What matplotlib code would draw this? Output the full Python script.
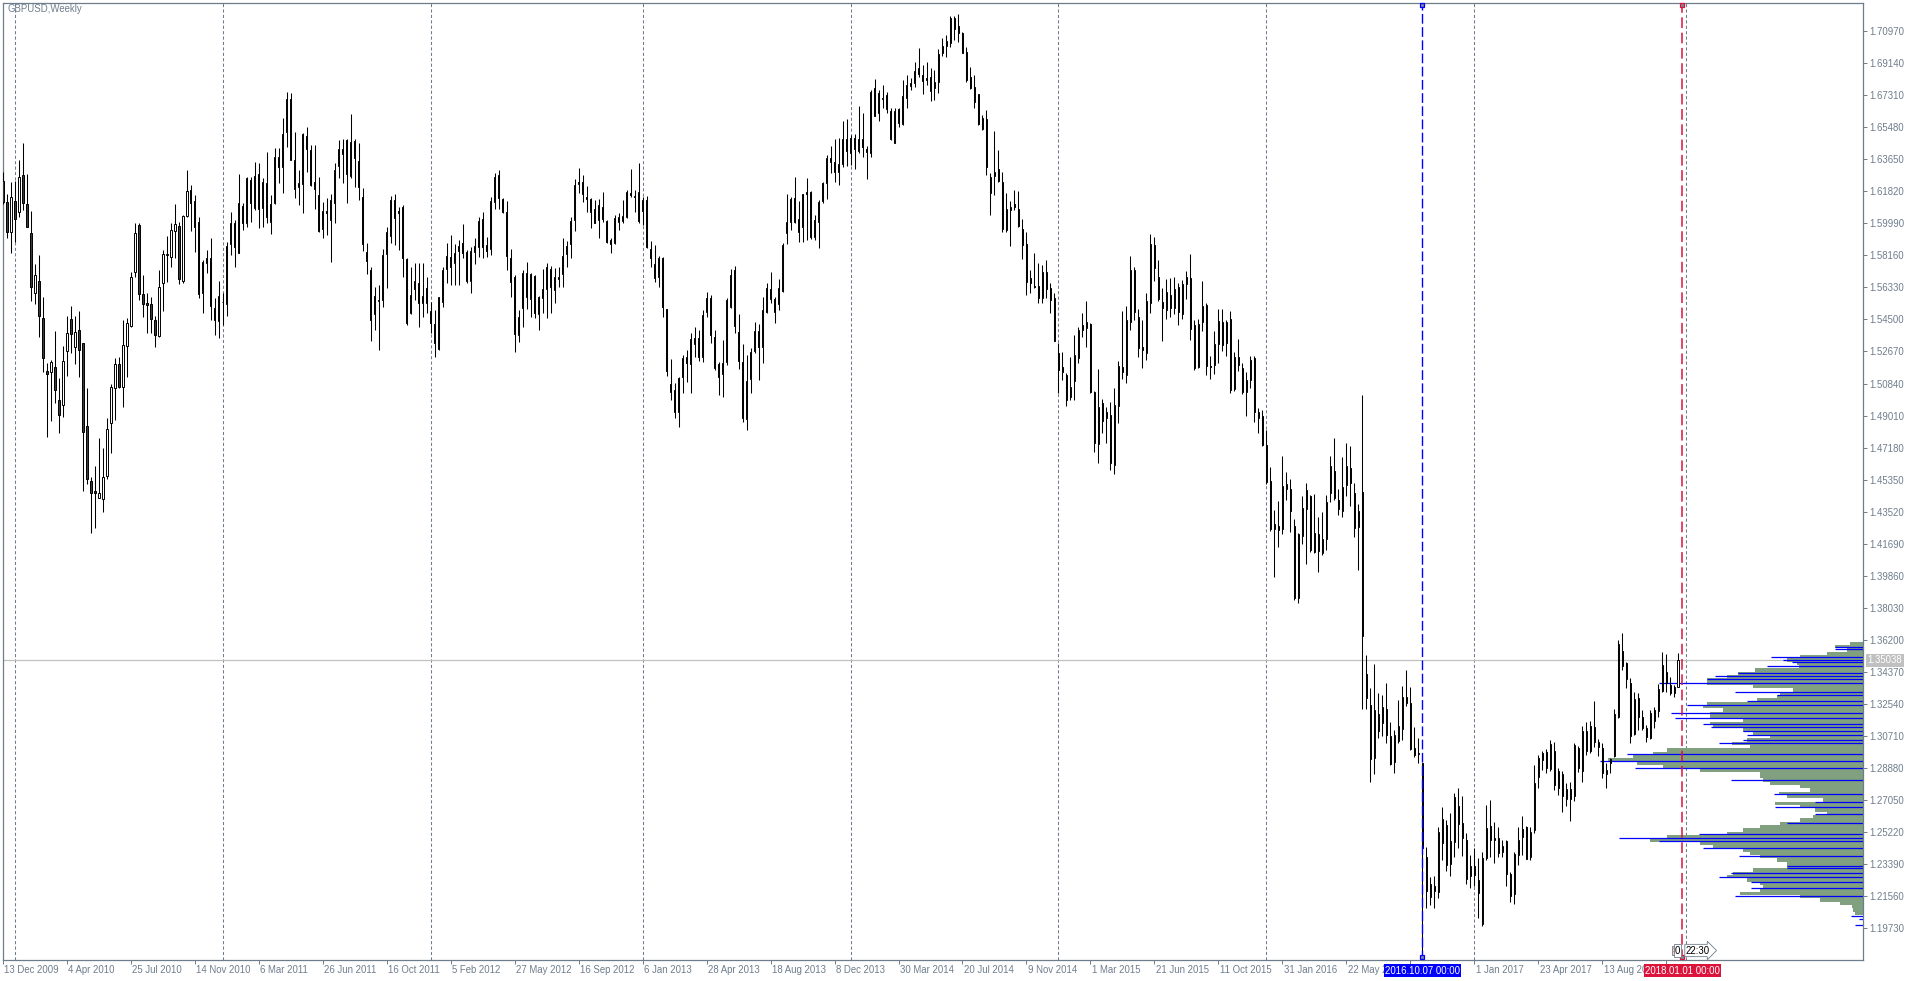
import numpy as np
import pandas as pd
import matplotlib
matplotlib.use("Agg")
import matplotlib.pyplot as plt

symbol_title = "GBPUSD,Weekly"
first_week = "2009-12-13"

opens = [
    1.6240, 1.6119, 1.5947, 1.6124, 1.6062, 1.6275, 1.6107, 1.5942, 1.5599, 1.5669,
    1.5456, 1.5154, 1.5152, 1.5176, 1.4990, 1.4959, 1.5270, 1.5450, 1.5291, 1.5390,
    1.5313, 1.4839, 1.4525, 1.4468, 1.4432, 1.4423, 1.4554, 1.4857, 1.5057, 1.5194,
    1.5062, 1.5296, 1.5413, 1.5723, 1.5987, 1.5593, 1.5544, 1.5536, 1.5447, 1.5357,
    1.5656, 1.5818, 1.5805, 1.5955, 1.5983, 1.5668, 1.6042, 1.6189, 1.6126, 1.6004,
    1.5599, 1.5770, 1.5799, 1.5513, 1.5441, 1.5550, 1.5538, 1.5879, 1.5999, 1.5831,
    1.6098, 1.6003, 1.6246, 1.6084, 1.6280, 1.6084, 1.6227, 1.6008, 1.6113, 1.6376,
    1.6322, 1.6518, 1.6707, 1.6360, 1.6208, 1.6221, 1.6497, 1.6417, 1.6233, 1.6158,
    1.5964, 1.6067, 1.6017, 1.6113, 1.6328, 1.6421, 1.6474, 1.6271, 1.6469, 1.6354,
    1.6151, 1.5833, 1.5732, 1.5479, 1.5555, 1.5561, 1.5821, 1.5928, 1.6132, 1.6067,
    1.6090, 1.5795, 1.5485, 1.5624, 1.5656, 1.5542, 1.5627, 1.5498, 1.5422, 1.5279,
    1.5551, 1.5736, 1.5808, 1.5774, 1.5842, 1.5884, 1.5833, 1.5671, 1.5837, 1.5865,
    1.6021, 1.5875, 1.5850, 1.6122, 1.6273, 1.6135, 1.6065, 1.5799, 1.5690, 1.5361,
    1.5513, 1.5713, 1.5565, 1.5698, 1.5479, 1.5574, 1.5624, 1.5736, 1.5618, 1.5679,
    1.5707, 1.5822, 1.5879, 1.6018, 1.6221, 1.6237, 1.6147, 1.6138, 1.6079, 1.6018,
    1.6094, 1.6012, 1.5904, 1.5884, 1.6008, 1.6014, 1.6037, 1.6170, 1.6155, 1.6176,
    1.6071, 1.6132, 1.5850, 1.5767, 1.5694, 1.5799, 1.5508, 1.5079, 1.5047, 1.4923,
    1.5120, 1.5234, 1.5194, 1.5308, 1.5342, 1.5234, 1.5490, 1.5570, 1.5352, 1.5193,
    1.5139, 1.5209, 1.5519, 1.5732, 1.5376, 1.5205, 1.4879, 1.5108, 1.5271, 1.5384,
    1.5291, 1.5490, 1.5622, 1.5567, 1.5538, 1.5614, 1.5942, 1.6004, 1.6141, 1.6023,
    1.5976, 1.6176, 1.6176, 1.5923, 1.6004, 1.6126, 1.6227, 1.6370, 1.6347, 1.6294,
    1.6336, 1.6478, 1.6402, 1.6484, 1.6414, 1.6478, 1.6421, 1.6398, 1.6770, 1.6631,
    1.6709, 1.6731, 1.6640, 1.6459, 1.6574, 1.6564, 1.6716, 1.6785, 1.6798, 1.6884,
    1.6846, 1.6817, 1.6836, 1.6769, 1.6808, 1.6973, 1.7013, 1.7027, 1.7169, 1.7126,
    1.7084, 1.6979, 1.6832, 1.6779, 1.6735, 1.6537, 1.6593, 1.6174, 1.6271, 1.6307,
    1.6233, 1.5961, 1.6075, 1.6107, 1.6079, 1.5964, 1.5879, 1.5685, 1.5643, 1.5641,
    1.5574, 1.5719, 1.5628, 1.5570, 1.5256, 1.5176, 1.5133, 1.5009, 1.5100, 1.5228,
    1.5390, 1.5399, 1.5424, 1.5038, 1.4736, 1.4971, 1.4919, 1.4904, 1.4619, 1.4956,
    1.5180, 1.5131, 1.5437, 1.5732, 1.5461, 1.5295, 1.5258, 1.5546, 1.5874, 1.5693,
    1.5549, 1.5503, 1.5590, 1.5514, 1.5634, 1.5483, 1.5651, 1.5684, 1.5418, 1.5177,
    1.5433, 1.5535, 1.5186, 1.5188, 1.5308, 1.5437, 1.5433, 1.5450, 1.5050, 1.5236,
    1.5171, 1.5033, 1.5105, 1.5230, 1.4887, 1.4897, 1.4734, 1.4526, 1.4253, 1.4270,
    1.4253, 1.4479, 1.4482, 1.4268, 1.3860, 1.4216, 1.4366, 1.4439, 1.4122, 1.4224,
    1.4117, 1.4198, 1.4460, 1.4585, 1.4417, 1.4358, 1.4504, 1.4603, 1.4460, 1.4264,
    1.4467, 1.3423, 1.3248, 1.2948, 1.3198, 1.3143, 1.3226, 1.3073, 1.2920, 1.3045,
    1.3110, 1.3292, 1.3258, 1.3001, 1.2972, 1.2915, 1.2382, 1.2150, 1.2215, 1.2179,
    1.2458, 1.2563, 1.2340, 1.2468, 1.2672, 1.2573, 1.2478, 1.2272, 1.2329, 1.2249,
    1.1998, 1.2373, 1.2559, 1.2478, 1.2487, 1.2407, 1.2472, 1.2283, 1.2167, 1.2392,
    1.2493, 1.2550, 1.2382, 1.2535, 1.2835, 1.2934, 1.2982, 1.2881, 1.2988, 1.2773,
    1.2852, 1.2712, 1.2769, 1.2731, 1.3001, 1.2873, 1.2988, 1.3130, 1.3125, 1.3039,
    1.3001, 1.2855, 1.2915, 1.2959, 1.3178, 1.3557, 1.3486, 1.3372, 1.3083, 1.3286,
    1.3178, 1.3115, 1.3062, 1.3159, 1.3216, 1.3330, 1.3439, 1.3363, 1.3315, 1.3353,
]

highs = [
    1.6290, 1.6164, 1.6237, 1.6242, 1.6360, 1.6459, 1.6280, 1.6069, 1.5765, 1.5818,
    1.5580, 1.5203, 1.5218, 1.5384, 1.5114, 1.5298, 1.5470, 1.5527, 1.5471, 1.5500,
    1.5313, 1.5057, 1.4548, 1.4613, 1.4771, 1.4714, 1.4885, 1.5079, 1.5232, 1.5237,
    1.5447, 1.5456, 1.5721, 1.5999, 1.5999, 1.5704, 1.5599, 1.5580, 1.5470, 1.5732,
    1.5846, 1.5926, 1.5999, 1.6109, 1.6008, 1.6046, 1.6303, 1.6218, 1.6160, 1.6037,
    1.5789, 1.5846, 1.5913, 1.5570, 1.5669, 1.5600, 1.5894, 1.6065, 1.6018, 1.6280,
    1.6113, 1.6265, 1.6265, 1.6351, 1.6341, 1.6260, 1.6408, 1.6160, 1.6427, 1.6427,
    1.6598, 1.6746, 1.6741, 1.6522, 1.6303, 1.6516, 1.6547, 1.6446, 1.6446, 1.6261,
    1.6118, 1.6141, 1.6166, 1.6341, 1.6474, 1.6478, 1.6480, 1.6623, 1.6480, 1.6459,
    1.6198, 1.5884, 1.5751, 1.5637, 1.5646, 1.5852, 1.5979, 1.6155, 1.6166, 1.6094,
    1.6103, 1.5799, 1.5751, 1.5774, 1.5770, 1.5774, 1.5694, 1.5547, 1.5504, 1.5576,
    1.5751, 1.5884, 1.5932, 1.5878, 1.5903, 1.5995, 1.5846, 1.5865, 1.5913, 1.6036,
    1.6061, 1.5922, 1.6151, 1.6284, 1.6303, 1.6141, 1.6126, 1.5850, 1.5703, 1.5504,
    1.5732, 1.5776, 1.5717, 1.5703, 1.5584, 1.5738, 1.5774, 1.5757, 1.5741, 1.5751,
    1.5913, 1.5898, 1.6037, 1.6252, 1.6313, 1.6275, 1.6212, 1.6141, 1.6132, 1.6136,
    1.6176, 1.6018, 1.5913, 1.6046, 1.6056, 1.6132, 1.6189, 1.6309, 1.6189, 1.6345,
    1.6151, 1.6155, 1.5898, 1.5875, 1.5812, 1.5808, 1.5508, 1.5222, 1.5085, 1.5123,
    1.5247, 1.5275, 1.5371, 1.5409, 1.5390, 1.5504, 1.5608, 1.5589, 1.5390, 1.5209,
    1.5332, 1.5570, 1.5736, 1.5757, 1.5479, 1.5310, 1.5247, 1.5285, 1.5437, 1.5424,
    1.5580, 1.5660, 1.5719, 1.5580, 1.5679, 1.5884, 1.6166, 1.6147, 1.6261, 1.6126,
    1.6166, 1.6256, 1.6185, 1.6046, 1.6132, 1.6237, 1.6389, 1.6440, 1.6478, 1.6484,
    1.6583, 1.6593, 1.6503, 1.6509, 1.6669, 1.6631, 1.6442, 1.6760, 1.6823, 1.6760,
    1.6789, 1.6750, 1.6655, 1.6655, 1.6659, 1.6817, 1.6846, 1.6830, 1.6918, 1.6998,
    1.6903, 1.6922, 1.6884, 1.6874, 1.6992, 1.7059, 1.7074, 1.7183, 1.7183, 1.7192,
    1.7093, 1.7008, 1.6893, 1.6846, 1.6735, 1.6617, 1.6646, 1.6284, 1.6526, 1.6417,
    1.6290, 1.6170, 1.6126, 1.6189, 1.6183, 1.6023, 1.5951, 1.5732, 1.5827, 1.5770,
    1.5761, 1.5789, 1.5656, 1.5603, 1.5317, 1.5266, 1.5142, 1.5237, 1.5361, 1.5409,
    1.5485, 1.5555, 1.5428, 1.5043, 1.5165, 1.4994, 1.4952, 1.4980, 1.5056, 1.5214,
    1.5498, 1.5525, 1.5815, 1.5750, 1.5509, 1.5444, 1.5601, 1.5935, 1.5918, 1.5789,
    1.5630, 1.5678, 1.5684, 1.5695, 1.5656, 1.5673, 1.5728, 1.5826, 1.5444, 1.5455,
    1.5667, 1.5546, 1.5241, 1.5385, 1.5509, 1.5509, 1.5444, 1.5498, 1.5265, 1.5341,
    1.5203, 1.5149, 1.5243, 1.5243, 1.4946, 1.4930, 1.4821, 1.4609, 1.4362, 1.4412,
    1.4672, 1.4581, 1.4537, 1.4312, 1.4231, 1.4439, 1.4515, 1.4449, 1.4454, 1.4323,
    1.4351, 1.4449, 1.4668, 1.4773, 1.4482, 1.4664, 1.4745, 1.4729, 1.4515, 1.4395,
    1.5018, 1.3532, 1.3346, 1.3482, 1.3318, 1.3303, 1.3375, 1.3149, 1.3106, 1.3274,
    1.3357, 1.3448, 1.3349, 1.3125, 1.3058, 1.2915, 1.2439, 1.2268, 1.2272, 1.2554,
    1.2664, 1.2592, 1.2630, 1.2748, 1.2773, 1.2729, 1.2516, 1.2392, 1.2430, 1.2373,
    1.2411, 1.2677, 1.2706, 1.2582, 1.2554, 1.2478, 1.2478, 1.2297, 1.2411, 1.2554,
    1.2615, 1.2559, 1.2554, 1.2906, 1.2963, 1.2988, 1.2995, 1.3049, 1.3039, 1.2887,
    1.2873, 1.2805, 1.2811, 1.3030, 1.3016, 1.3128, 1.3153, 1.3159, 1.3271, 1.3052,
    1.3030, 1.2919, 1.2944, 1.3226, 1.3620, 1.3658, 1.3496, 1.3401, 1.3324, 1.3315,
    1.3220, 1.3134, 1.3220, 1.3239, 1.3368, 1.3553, 1.3538, 1.3410, 1.3363, 1.3547,
]

lows = [
    1.6110, 1.5917, 1.5831, 1.5894, 1.6037, 1.6075, 1.5980, 1.5555, 1.5536, 1.5352,
    1.5152, 1.4780, 1.4872, 1.4975, 1.4800, 1.4891, 1.5127, 1.5256, 1.5194, 1.5123,
    1.4472, 1.4510, 1.4228, 1.4257, 1.4428, 1.4348, 1.4540, 1.4685, 1.4876, 1.5057,
    1.4948, 1.5123, 1.5409, 1.5694, 1.5561, 1.5466, 1.5371, 1.5371, 1.5294, 1.5352,
    1.5500, 1.5666, 1.5751, 1.5803, 1.5652, 1.5656, 1.6037, 1.5957, 1.5837, 1.5574,
    1.5485, 1.5713, 1.5447, 1.5361, 1.5346, 1.5420, 1.5471, 1.5818, 1.5751, 1.5827,
    1.5961, 1.5980, 1.6008, 1.6075, 1.5974, 1.5980, 1.5999, 1.5936, 1.6109, 1.6227,
    1.6170, 1.6432, 1.6360, 1.6145, 1.6103, 1.6059, 1.6293, 1.6212, 1.6078, 1.5951,
    1.5913, 1.5932, 1.5780, 1.6002, 1.6255, 1.6227, 1.6113, 1.6255, 1.6208, 1.6132,
    1.5842, 1.5707, 1.5328, 1.5389, 1.5275, 1.5523, 1.5627, 1.5884, 1.5875, 1.5846,
    1.5690, 1.5418, 1.5479, 1.5561, 1.5408, 1.5465, 1.5485, 1.5370, 1.5237, 1.5275,
    1.5519, 1.5656, 1.5646, 1.5646, 1.5646, 1.5799, 1.5656, 1.5603, 1.5766, 1.5808,
    1.5802, 1.5808, 1.5818, 1.6078, 1.6078, 1.6056, 1.5732, 1.5580, 1.5266, 1.5323,
    1.5408, 1.5507, 1.5465, 1.5456, 1.5389, 1.5485, 1.5456, 1.5485, 1.5542, 1.5637,
    1.5637, 1.5751, 1.5799, 1.5957, 1.6170, 1.6122, 1.6065, 1.5974, 1.5999, 1.5913,
    1.6008, 1.5888, 1.5827, 1.5880, 1.5961, 1.6003, 1.6027, 1.6151, 1.6065, 1.5999,
    1.5989, 1.5856, 1.5751, 1.5666, 1.5637, 1.5462, 1.5127, 1.4990, 1.4885, 1.4834,
    1.5032, 1.5095, 1.5032, 1.5237, 1.5215, 1.5209, 1.5466, 1.5314, 1.5161, 1.5018,
    1.5009, 1.5190, 1.5513, 1.5371, 1.5165, 1.4866, 1.4819, 1.5028, 1.5256, 1.5104,
    1.5203, 1.5485, 1.5542, 1.5431, 1.5504, 1.5608, 1.5881, 1.5961, 1.6003, 1.5894,
    1.5894, 1.5904, 1.5907, 1.5904, 1.5856, 1.6113, 1.6136, 1.6288, 1.6237, 1.6218,
    1.6322, 1.6326, 1.6332, 1.6309, 1.6398, 1.6379, 1.6252, 1.6379, 1.6613, 1.6585,
    1.6659, 1.6631, 1.6475, 1.6456, 1.6547, 1.6560, 1.6655, 1.6760, 1.6779, 1.6832,
    1.6737, 1.6789, 1.6697, 1.6703, 1.6741, 1.6954, 1.6950, 1.7008, 1.7046, 1.7036,
    1.6973, 1.6808, 1.6764, 1.6655, 1.6560, 1.6532, 1.6275, 1.6046, 1.6160, 1.6237,
    1.5951, 1.5951, 1.5871, 1.6075, 1.5980, 1.5793, 1.5589, 1.5599, 1.5628, 1.5542,
    1.5542, 1.5570, 1.5485, 1.5327, 1.5028, 1.5104, 1.4956, 1.4990, 1.4990, 1.5199,
    1.5352, 1.5291, 1.5028, 1.4695, 1.4632, 1.4800, 1.4742, 1.4590, 1.4567, 1.4857,
    1.5108, 1.5088, 1.5389, 1.5444, 1.5236, 1.5171, 1.5219, 1.5487, 1.5669, 1.5553,
    1.5328, 1.5450, 1.5466, 1.5483, 1.5418, 1.5455, 1.5564, 1.5335, 1.5160, 1.5171,
    1.5383, 1.5133, 1.5109, 1.5138, 1.5199, 1.5269, 1.5241, 1.5029, 1.5040, 1.5153,
    1.5024, 1.4897, 1.5061, 1.4865, 1.4804, 1.4727, 1.4509, 1.4242, 1.3978, 1.4148,
    1.4227, 1.4417, 1.4238, 1.3849, 1.3833, 1.4166, 1.4052, 1.4122, 1.4117, 1.4008,
    1.4104, 1.4133, 1.4406, 1.4417, 1.4336, 1.4323, 1.4439, 1.4384, 1.4205, 1.4017,
    1.3226, 1.3226, 1.2811, 1.2855, 1.3062, 1.3073, 1.3029, 1.2905, 1.2861, 1.3034,
    1.3051, 1.3243, 1.2991, 1.2953, 1.2915, 1.1841, 1.2087, 1.2106, 1.2087, 1.2144,
    1.2363, 1.2302, 1.2272, 1.2382, 1.2430, 1.2386, 1.2226, 1.2202, 1.2215, 1.2030,
    1.1986, 1.2363, 1.2382, 1.2344, 1.2382, 1.2382, 1.2215, 1.2125, 1.2112, 1.2335,
    1.2392, 1.2367, 1.2363, 1.2516, 1.2773, 1.2877, 1.2858, 1.2873, 1.2763, 1.2734,
    1.2636, 1.2674, 1.2588, 1.2702, 1.2868, 1.2811, 1.2963, 1.2972, 1.3010, 1.2957,
    1.2830, 1.2773, 1.2858, 1.2953, 1.3172, 1.3448, 1.3344, 1.3029, 1.3077, 1.3106,
    1.3106, 1.3039, 1.3052, 1.3115, 1.3178, 1.3325, 1.3325, 1.3305, 1.3296, 1.3353,
]

closes = [
    1.6119, 1.5947, 1.6147, 1.6022, 1.6261, 1.6113, 1.5980, 1.5637, 1.5704, 1.5471,
    1.5232, 1.5136, 1.5205, 1.5045, 1.4902, 1.5211, 1.5371, 1.5365, 1.5376, 1.5273,
    1.4805, 1.4539, 1.4457, 1.4457, 1.4457, 1.4550, 1.4822, 1.5062, 1.5194, 1.5062,
    1.5302, 1.5428, 1.5690, 1.5942, 1.5593, 1.5536, 1.5530, 1.5450, 1.5359, 1.5633,
    1.5822, 1.5824, 1.5961, 1.5993, 1.5679, 1.6042, 1.6183, 1.6113, 1.5980, 1.5593,
    1.5776, 1.5799, 1.5529, 1.5447, 1.5586, 1.5551, 1.5871, 1.6000, 1.5862, 1.6113,
    1.6003, 1.6256, 1.6117, 1.6269, 1.6079, 1.6237, 1.6037, 1.6109, 1.6379, 1.6322,
    1.6509, 1.6707, 1.6360, 1.6193, 1.6227, 1.6509, 1.6425, 1.6217, 1.6193, 1.5957,
    1.6067, 1.6056, 1.6132, 1.6303, 1.6421, 1.6392, 1.6278, 1.6465, 1.6370, 1.6208,
    1.5880, 1.5785, 1.5446, 1.5584, 1.5561, 1.5817, 1.5947, 1.6132, 1.6031, 1.6059,
    1.5802, 1.5427, 1.5592, 1.5669, 1.5542, 1.5585, 1.5542, 1.5427, 1.5317, 1.5576,
    1.5732, 1.5812, 1.5751, 1.5827, 1.5869, 1.5831, 1.5671, 1.5840, 1.5869, 1.6012,
    1.5865, 1.5842, 1.6126, 1.6261, 1.6145, 1.6065, 1.5814, 1.5665, 1.5365, 1.5465,
    1.5713, 1.5580, 1.5707, 1.5488, 1.5576, 1.5624, 1.5751, 1.5637, 1.5694, 1.5694,
    1.5812, 1.5869, 1.6012, 1.6218, 1.6237, 1.6164, 1.6136, 1.6065, 1.5999, 1.6101,
    1.6022, 1.5894, 1.5881, 1.6027, 1.6033, 1.6040, 1.6176, 1.6160, 1.6147, 1.6014,
    1.6132, 1.5865, 1.5799, 1.5688, 1.5799, 1.5519, 1.5157, 1.5038, 1.4923, 1.5114,
    1.5228, 1.5199, 1.5336, 1.5342, 1.5234, 1.5475, 1.5570, 1.5361, 1.5171, 1.5123,
    1.5199, 1.5561, 1.5704, 1.5414, 1.5214, 1.4885, 1.5100, 1.5262, 1.5384, 1.5291,
    1.5504, 1.5628, 1.5565, 1.5490, 1.5628, 1.5875, 1.6004, 1.6138, 1.6008, 1.5947,
    1.6164, 1.6164, 1.5923, 1.6018, 1.6119, 1.6227, 1.6370, 1.6347, 1.6294, 1.6336,
    1.6478, 1.6414, 1.6484, 1.6421, 1.6478, 1.6436, 1.6408, 1.6747, 1.6613, 1.6741,
    1.6714, 1.6650, 1.6482, 1.6640, 1.6652, 1.6728, 1.6789, 1.6798, 1.6870, 1.6851,
    1.6811, 1.6827, 1.6754, 1.6804, 1.6964, 1.7013, 1.7040, 1.7169, 1.7106, 1.7084,
    1.6973, 1.6817, 1.6770, 1.6690, 1.6566, 1.6598, 1.6322, 1.6265, 1.6290, 1.6240,
    1.5966, 1.6079, 1.6090, 1.6090, 1.5983, 1.5875, 1.5666, 1.5656, 1.5637, 1.5574,
    1.5719, 1.5622, 1.5561, 1.5327, 1.5161, 1.5148, 1.4990, 1.5062, 1.5247, 1.5390,
    1.5418, 1.5433, 1.5034, 1.4742, 1.4948, 1.4872, 1.4885, 1.4632, 1.4961, 1.5186,
    1.5152, 1.5444, 1.5732, 1.5494, 1.5284, 1.5273, 1.5553, 1.5881, 1.5745, 1.5564,
    1.5514, 1.5608, 1.5514, 1.5623, 1.5492, 1.5651, 1.5695, 1.5396, 1.5171, 1.5422,
    1.5527, 1.5186, 1.5177, 1.5308, 1.5439, 1.5306, 1.5313, 1.5046, 1.5236, 1.5188,
    1.5033, 1.5105, 1.5221, 1.4919, 1.4924, 1.4734, 1.4522, 1.4253, 1.4279, 1.4249,
    1.4500, 1.4509, 1.4358, 1.3860, 1.4224, 1.4373, 1.4476, 1.4133, 1.4231, 1.4126,
    1.4194, 1.4410, 1.4613, 1.4428, 1.4369, 1.4493, 1.4613, 1.4515, 1.4257, 1.4358,
    1.3641, 1.3287, 1.2942, 1.3219, 1.3101, 1.3237, 1.3077, 1.2909, 1.3079, 1.3128,
    1.3292, 1.3262, 1.2995, 1.2963, 1.2967, 1.2430, 1.2186, 1.2226, 1.2188, 1.2521,
    1.2596, 1.2335, 1.2474, 1.2721, 1.2567, 1.2487, 1.2253, 1.2329, 1.2278, 1.2173,
    1.2373, 1.2544, 1.2478, 1.2489, 1.2401, 1.2445, 1.2283, 1.2158, 1.2398, 1.2478,
    1.2539, 1.2369, 1.2521, 1.2801, 1.2948, 1.2976, 1.2887, 1.3026, 1.2792, 1.2873,
    1.2731, 1.2769, 1.2712, 1.3020, 1.2887, 1.3100, 1.3100, 1.2988, 1.3035, 1.3007,
    1.2862, 1.2877, 1.2938, 1.3195, 1.3595, 1.3473, 1.3397, 1.3071, 1.3281, 1.3178,
    1.3119, 1.3068, 1.3201, 1.3220, 1.3338, 1.3477, 1.3376, 1.3319, 1.3353, 1.3504,
]

bid_price = 1.35038

price_ticks = [1.70970, 1.69140, 1.67310, 1.65480, 1.63650, 1.61820, 1.59990,
               1.58160, 1.56330, 1.54500, 1.52670, 1.50840, 1.49010, 1.47180,
               1.45350, 1.43520, 1.41690, 1.39860, 1.38030, 1.36200, 1.34370,
               1.32540, 1.30710, 1.28880, 1.27050, 1.25220, 1.23390, 1.21560,
               1.19730]

# volume profile (green histogram) between the two vertical lines
profile_levels = [
    1.3601, 1.3582, 1.3562, 1.3543, 1.3524, 1.3505, 1.3486, 1.3467, 1.3448, 1.3429,
    1.3410, 1.3391, 1.3372, 1.3353, 1.3334, 1.3315, 1.3296, 1.3277, 1.3258, 1.3239,
    1.3220, 1.3201, 1.3182, 1.3163, 1.3144, 1.3125, 1.3106, 1.3087, 1.3068, 1.3049,
    1.3030, 1.3010, 1.2991, 1.2972, 1.2953, 1.2934, 1.2915, 1.2896, 1.2877, 1.2858,
    1.2839, 1.2820, 1.2801, 1.2782, 1.2763, 1.2744, 1.2725, 1.2706, 1.2687, 1.2668,
    1.2649, 1.2630, 1.2611, 1.2592, 1.2573, 1.2554, 1.2535, 1.2516, 1.2497, 1.2477,
    1.2458, 1.2439, 1.2420, 1.2401, 1.2382, 1.2363, 1.2344, 1.2325, 1.2306, 1.2287,
    1.2268, 1.2249, 1.2230, 1.2211, 1.2192, 1.2173, 1.2154, 1.2135, 1.2116, 1.2097,
    1.2078, 1.2059,
]
profile_volume = [
    40, 85, 50, 110, 190, 230, 200, 193, 325, 375,
    410, 470, 470, 330, 210, 250, 260, 320, 470, 480,
    420, 460, 460, 360, 460, 450, 360, 330, 280, 350,
    395, 340, 590, 630, 690, 765, 680, 600, 490, 310,
    310, 300, 280, 190, 160, 253, 230, 120, 265, 190,
    145, 110, 150, 190, 250, 310, 360, 410, 590, 640,
    490, 450, 360, 340, 310, 260, 230, 230, 330, 390,
    410, 350, 310, 300, 310, 370, 190, 130, 70, 35,
    30, 25,
]
# blue marker lines of the profile
peak_levels = [1.3582, 1.3568, 1.3521, 1.3505, 1.3496, 1.3471, 1.3429, 1.3412,
               1.3397, 1.3374, 1.3323, 1.3307, 1.3271, 1.3246, 1.3201, 1.3172,
               1.3138, 1.3121, 1.3098, 1.3075, 1.3047, 1.3030, 1.2967, 1.2927,
               1.2887, 1.2820, 1.2740, 1.2695, 1.2664, 1.2626, 1.2575, 1.2510,
               1.2487, 1.2474, 1.2430, 1.2384, 1.2331, 1.2318, 1.2287, 1.2264,
               1.2236, 1.2203, 1.2158, 1.2044, 1.2026, 1.1994]
peak_volume = [85, 85, 277, 240, 215, 290, 375, 445,
               470, 612, 385, 260, 350, 530, 577, 565,
               480, 458, 360, 350, 360, 433, 710, 790,
               685, 397, 268, 145, 265, 145, 230, 493,
               732, 612, 480, 373, 230, 230, 397, 433,
               337, 337, 385, 38, 12, 25]

start_line = "2016-10-07"
end_line = "2018-01-01"
start_label = "2016.10.07 00:00"
end_label = "2018.01.01 00:00"

# ---------------------------------------------------------------- layout
W, H = 1916, 981
left_px, right_px, top_px, bot_px = 2.7, 1863.3, 2.7, 960.0
bar_px = 4.0
first_center_px = 2.3
px_price = 0.00057104
anchor_price, anchor_px = 1.7097, 31.0

plt.rcParams["font.family"] = ["Liberation Sans", "DejaVu Sans"]
grey = "#6E7D8C"
fs = 6.9

fig = plt.figure(figsize=(W / 100, H / 100), dpi=100)
ax = fig.add_axes([left_px / W, 1 - bot_px / H,
                   (right_px - left_px) / W, (bot_px - top_px) / H])
ax.set_xlim((left_px - first_center_px) / bar_px,
            (right_px - first_center_px) / bar_px)
ax.set_ylim(anchor_price - (bot_px - anchor_px) * px_price,
            anchor_price + (anchor_px - top_px) * px_price)
xmin, xmax = ax.get_xlim()

o = np.array(opens)
h = np.array(highs)
l = np.array(lows)
c = np.array(closes)
n = len(c)
x = np.arange(n)
dates = pd.date_range(first_week, periods=n + 2, freq="7D")

# year separators
for i in range(1, len(dates)):
    if dates[i].year != dates[i - 1].year:
        ax.axvline(i, color=grey, lw=0.75, ls=(0, (3, 2.2)), zorder=1)

# bid line
ax.axhline(bid_price, color="#C0C0C0", lw=0.9, zorder=1.5)

# volume profile
vol = np.array(profile_volume) / 12.0
ax.barh(profile_levels, vol, left=xmax - vol, height=0.0019,
        color="#80A080", edgecolor="none", zorder=2)
pv = np.array(peak_volume) / 12.0
ax.hlines(peak_levels, xmax - pv, xmax, color="#0000FF", lw=0.9, zorder=2.5)

# candles
up = c >= o
lo = np.minimum(o, c)
hh = np.maximum(np.abs(c - o), 0.0002)
ax.vlines(x, l, h, color="black", lw=0.75, zorder=3)
ax.bar(x[up], hh[up], bottom=lo[up], width=0.42, color="white",
       edgecolor="black", lw=0.7, zorder=4)
ax.bar(x[~up], hh[~up], bottom=lo[~up], width=0.42, color="#3A3A3A",
       edgecolor="black", lw=0.7, zorder=4)

# vertical event lines
t0 = pd.Timestamp(first_week)
xa = (pd.Timestamp(start_line) - t0).days // 7
xb = (pd.Timestamp(end_line) - t0).days // 7
xt = ax.get_xaxis_transform()
ax.axvline(xa, color="#0000FF", lw=1.0, ls=(0, (7, 2.5)), zorder=5)
ax.axvline(xb, color="#DC143C", lw=1.1, ls=(0, (7, 3)), zorder=5)
for xv, col in ((xa, "#0000FF"), (xb, "#DC143C")):
    ax.plot([xv, xv], [1 - 2.0 / 957.3, 3.0 / 957.3], ls="none", marker="s",
            ms=3.2, mfc="#7F8A96", mec=col, mew=0.9, transform=xt,
            clip_on=False, zorder=6)

y_lab = -10.5 / 957.3
ax.text(xa, y_lab, start_label, transform=xt, ha="center", va="center",
        fontsize=fs, color="white", zorder=10, clip_on=False,
        bbox=dict(boxstyle="square,pad=0.12", fc="#0000FF", ec="none"))
ax.text(xb, y_lab, end_label, transform=xt, ha="center", va="center",
        fontsize=fs, color="white", zorder=10, clip_on=False,
        bbox=dict(boxstyle="square,pad=0.12", fc="#DC143C", ec="none"))

# countdown boxes
y_cd = 9.5 / 957.3
ax.text(xb - 2.2, y_cd, ":", transform=xt, ha="center", va="center",
        fontsize=fs - 1, color="black", zorder=7,
        bbox=dict(boxstyle="square,pad=0.1", fc="#FFC8D0", ec=grey, lw=0.6))
ax.text(xb - 1.25, y_cd, "0", transform=xt, ha="center", va="center",
        fontsize=fs, color="black", zorder=7,
        bbox=dict(boxstyle="square,pad=0.12", fc="white", ec=grey, lw=0.6))
ax.text(xb + 0.9, y_cd, "22:30", transform=xt, ha="left", va="center",
        fontsize=fs, color="black", zorder=7,
        bbox=dict(boxstyle="rarrow,pad=0.12", fc="white", ec=grey, lw=0.6))

# frame and axes
for s in ax.spines.values():
    s.set_color(grey)
    s.set_linewidth(0.9)
ax.yaxis.tick_right()
ax.set_yticks(price_ticks)
ax.set_yticklabels([f"{v:.5f}" for v in price_ticks])
ax.tick_params(axis="y", length=3, width=0.7, color=grey, labelcolor=grey,
               labelsize=fs, pad=1, direction="out")
tick_idx = list(range(0, n, 16))
ax.set_xticks(tick_idx)
ax.tick_params(axis="x", length=3, width=0.7, color=grey, labelbottom=False,
               direction="out")
for i in tick_idx:
    # the time-line labels hide the date labels right under them
    if abs(i - xa) < 10 or abs(i - xb) < 10:
        continue
    d = dates[i]
    ax.text(i + 0.45, -10.0 / 957.3, f"{d.day} {d.strftime('%b %Y')}",
            transform=xt, ha="left", va="center", fontsize=fs, color=grey,
            clip_on=False, zorder=8)

ax.text(xmax + 1.1, bid_price, f"{bid_price:.5f}", transform=ax.transData,
        ha="left", va="center", fontsize=fs, color="white", clip_on=False,
        zorder=10, bbox=dict(boxstyle="square,pad=0.15", fc="#C0C0C0", ec="none"))

ax.text(4.5 / 1860.6, 1 - 6.5 / 957.3, symbol_title, transform=ax.transAxes,
        ha="left", va="center", fontsize=fs, color=grey, zorder=8)

fig.savefig("out.png", dpi=100, facecolor="white")
